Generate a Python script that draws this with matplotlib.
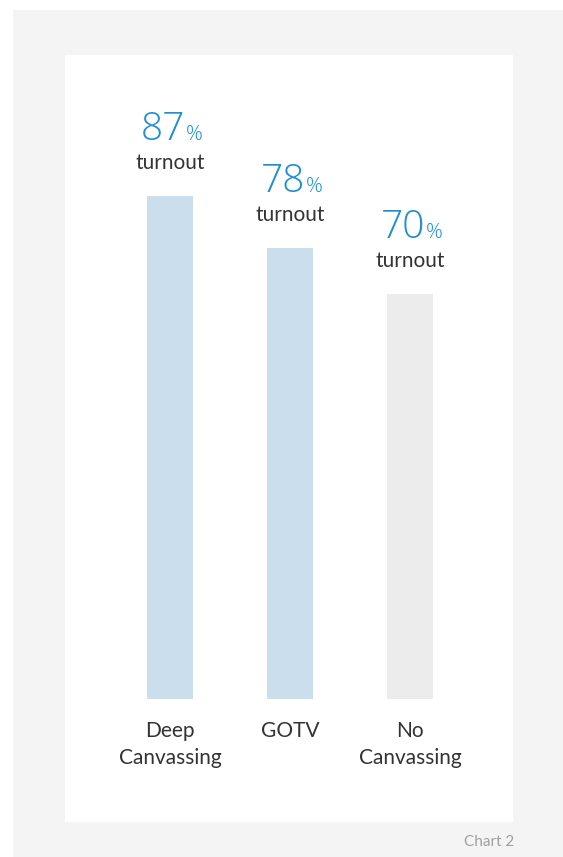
import matplotlib
matplotlib.use("Agg")
import matplotlib.pyplot as plt
from matplotlib.patches import Rectangle

# Daten
kategorien = ["Deep\nCanvassing", "GOTV", "No\nCanvassing"]
turnout = [87, 78, 70]
farben = ["#cbdeed", "#cbdeed", "#ececec"]
fusszeile = "Chart 2"

plt.rcParams['font.family'] = ['Lato', 'DejaVu Sans']

W, H = 563, 857
fig = plt.figure(figsize=(W / 100, H / 100), dpi=100)
fig.patch.set_facecolor("white")

# Hintergrund-Rahmen (grau) und innere weisse Flaeche
fig.patches.append(Rectangle((13 / W, 0), 1 - 13 / W, 1 - 10 / H, transform=fig.transFigure,
                             facecolor="#f4f4f4", edgecolor="none", zorder=-2))
fig.patches.append(Rectangle((65 / W, 1 - 822 / H), (513 - 65) / W, (822 - 55) / H,
                             transform=fig.transFigure, facecolor="white", edgecolor="none", zorder=-1))

# Achse: Balkenboden bei y=699 px, oben bei 55 px
ax = fig.add_axes([65 / W, 1 - 699 / H, (513 - 65) / W, (699 - 55) / H])
ax.set_zorder(2)
ax.set_facecolor("none")
x = range(len(turnout))
ax.bar(x, turnout, width=46 / 120, color=farben)
ax.set_xlim((65 - 170) / 120, (513 - 170) / 120)
ax.set_ylim(0, 644 / 5.78)

for s in ax.spines.values():
    s.set_visible(False)
ax.set_yticks([])
ax.set_xticks(list(x))
ax.set_xticklabels(kategorien, fontsize=15, color="#333333", linespacing=1.45)
ax.tick_params(axis='x', length=0, pad=16)

# Beschriftung ueber den Balken
zahl_font = ['Open Sans', 'DejaVu Sans']
for i, v in enumerate(turnout):
    ax.annotate(str(v), xy=(i, v), xytext=(15, 56), textcoords='offset pixels',
                ha='right', va='baseline', fontsize=28, color="#1f8fd3",
                family=zahl_font, fontweight='light')
    ax.annotate("%", xy=(i, v), xytext=(16, 56), textcoords='offset pixels',
                ha='left', va='baseline', fontsize=15, color="#1f8fd3",
                family=zahl_font, fontweight='light')
    ax.annotate("turnout", xy=(i, v), xytext=(0, 27), textcoords='offset pixels',
                ha='center', va='baseline', fontsize=15, color="#333333")

fig.text(514 / W, 1 - 842 / H, fusszeile, ha='right', va='center', fontsize=11, color="#a0a0a0")

plt.savefig("out.png", dpi=100)
